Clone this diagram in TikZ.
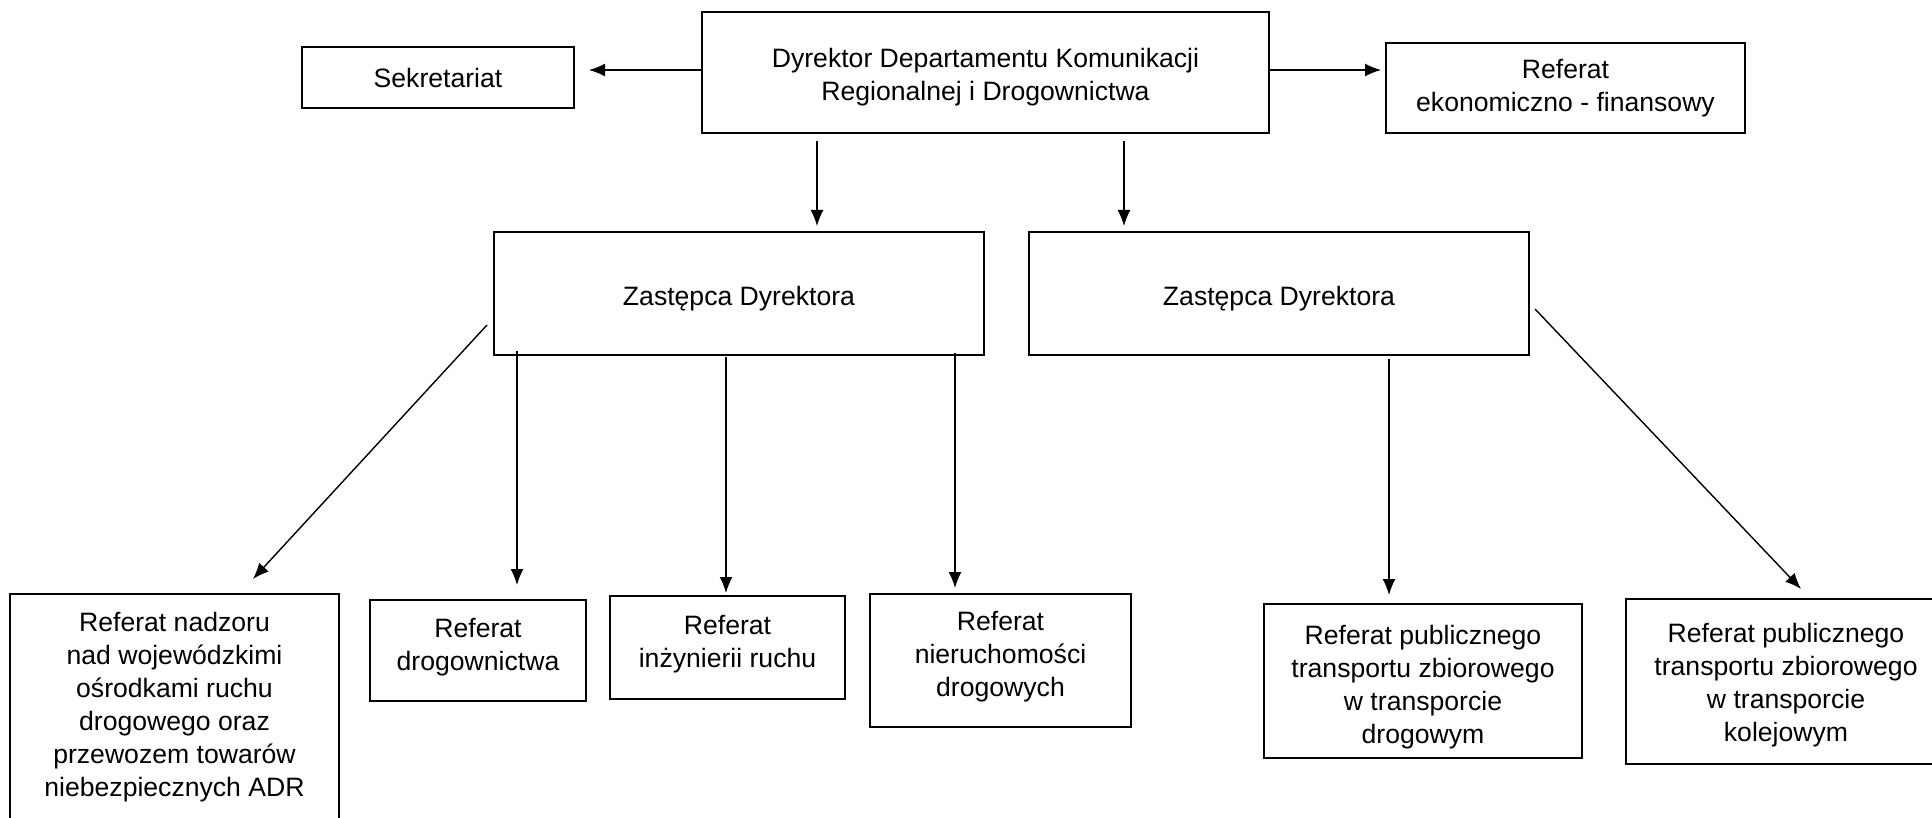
\documentclass[tikz,border=0pt]{standalone}
\usepackage{fontspec}
\setmainfont{Liberation Sans}
\usetikzlibrary{arrows.meta,calc}
\newcommand{\topstrut}[1]{\rule{0pt}{#1}}
\begin{document}
\begin{tikzpicture}[x=0.5pt,y=-0.5pt,
	every node/.style={draw,line width=1pt,align=center,inner sep=0pt,
		font=\fontsize{13.3pt}{16.5pt}\selectfont},
	box/.style 2 args={minimum width=#1*0.5pt,minimum height=#2*0.5pt},
	sink/.style={execute at begin node={\rule{0pt}{#1}}},
	lift/.style={execute at end node={\rule[-#1]{0pt}{#1}}},
	conn/.style={-{Latex[length=8pt,width=6.5pt]},line width=0.7pt}]
\useasboundingbox (0,0) rectangle (1932,818);
% top row
\node[box={567}{121}] (dyr) at (985.5,72.5) {\topstrut{14.6pt}Dyrektor Departamentu Komunikacji\\Regionalnej i Drogownictwa};
\node[box={272}{61}] (sekr) at (438,77.5) {Sekretariat};
\node[box={359}{90}] (ekon) at (1565.5,88) {Referat\\ekonomiczno - finansowy};
% deputies
\node[box={490}{123},sink=14.6pt] (zast1) at (739,293.5) {Zastępca Dyrektora};
\node[box={500}{123},sink=14.6pt] (zast2) at (1279,293.5) {Zastępca Dyrektora};
% bottom row
\node[box={329}{241},lift=10.2pt] (nadzor) at (174.5,714.5) {Referat nadzoru\\nad wojewódzkimi\\ośrodkami ruchu\\drogowego oraz\\przewozem towarów\\niebezpiecznych ADR};
\node[box={216}{101},lift=6.5pt] (drog) at (478,650.5) {Referat\\drogownictwa};
\node[box={235}{103},lift=6.5pt] (inz) at (727.5,647.5) {Referat\\inżynierii ruchu};
\node[box={261}{133},lift=6.5pt] (nier) at (1000.5,660.5) {Referat\\nieruchomości\\drogowych};
\node[box={318}{154}] (pdrog) at (1423,681) {\topstrut{15.6pt}Referat publicznego\\transportu zbiorowego\\w transporcie\\drogowym};
\node[box={320}{165}] (pkol) at (1786,681.5) {\topstrut{13.3pt}Referat publicznego\\transportu zbiorowego\\w transporcie\\kolejowym};
% connectors
\draw[conn] ($(dyr.west)+(0,-2.5)$) -- ($(sekr.east)+(14,-7.5)$);
\draw[conn] ($(dyr.east)+(0,-2.5)$) -- ($(ekon.west)+(-4,-18)$);
\draw[conn] ($(dyr.south)+(-168.5,7)$) -- ($(zast1.north)+(78,-5)$);
\draw[conn] ($(dyr.south)+(138.5,7)$) -- ($(zast2.north)+(-155,-5)$);
\draw[conn] ($(zast1.west)+(-6,31.5)$) -- ($(nadzor.north)+(78.5,-14)$);
\draw[conn] ($(zast1.south)+(-222,-5)$) -- ($(drog.north)+(39,-14)$);
\draw[conn] ($(zast1.south)+(-13,1)$) -- ($(inz.north)+(-1.5,-2)$);
\draw[conn] ($(zast1.south)+(216,-3)$) -- ($(nier.north)+(-45.5,-5)$);
\draw[conn] ($(zast2.south)+(110,3)$) -- ($(pdrog.north)+(-34,-8)$);
\draw[conn] ($(zast2.east)+(5,15.5)$) -- ($(pkol.north)+(15,-9)$);
\end{tikzpicture}
\end{document}
